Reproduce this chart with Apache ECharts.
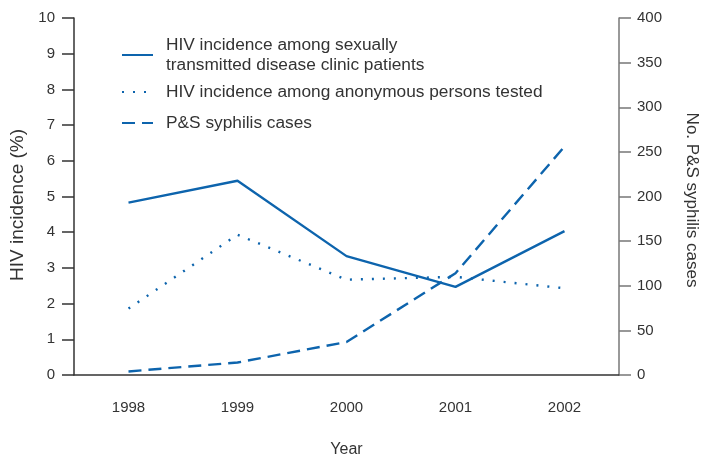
<!DOCTYPE html>
<html><head><meta charset="utf-8">
<script src="https://cdn.jsdelivr.net/npm/echarts@6/dist/echarts.min.js"></script>
<style>html,body{margin:0;padding:0;background:#fff}#c{width:707px;height:457px}</style>
</head><body><div id="c"></div>
<script>
const years = ['1998','1999','2000','2001','2002'];
const stdClinic = [4.83, 5.44, 3.33, 2.47, 4.03];
const anonymous = [1.86, 3.93, 2.67, 2.75, 2.43];
const syphilis = [4, 14, 37, 114, 256];
const leftTicks = [0,1,2,3,4,5,6,7,8,9,10];
const rightTicks = [0,50,100,150,200,250,300,350,400];
const names = ['HIV incidence among sexually\ntransmitted disease clinic patients',
               'HIV incidence among anonymous persons tested',
               'P&S syphilis cases'];
const blue = '#0d64ad';
const txt = '#333';
const font = '"Liberation Sans", Arial, Helvetica, sans-serif';
const chart = echarts.init(document.getElementById('c'));
function leg(i, top){
  return {data:[names[i]], left:121, top:top, padding:0, itemWidth:31, itemHeight:14, itemGap:0,
    itemStyle:{opacity:0},
    textStyle:{fontFamily:font,fontSize:17.3,color:txt,lineHeight:20,padding:[0,0,0,8]}, selectedMode:false};
}
chart.setOption({
  animation:false,
  textStyle:{fontFamily:font},
  grid:{left:74,right:88,top:18,bottom:82,outerBoundsMode:'none',containLabel:false},
  legend:[leg(0,35), leg(1,82), leg(2,113)],
  xAxis:{type:'category', data:years, boundaryGap:true,
    name:'Year', nameLocation:'middle', nameGap:67,
    nameTextStyle:{fontSize:16,color:txt,fontFamily:font},
    axisLine:{lineStyle:{color:'#333',width:1.5}},
    axisTick:{alignWithLabel:true,length:12,lineStyle:{color:'#333',width:1.5}},
    axisLabel:{fontSize:15,color:txt,margin:25,fontFamily:font}},
  yAxis:[
    {type:'value', min:leftTicks[0], max:leftTicks[leftTicks.length-1], interval:1,
     name:'HIV incidence (%)', nameLocation:'middle', nameGap:40,
     nameTextStyle:{fontSize:19,color:txt,fontFamily:font,padding:[0,17,0,0]},
     axisLine:{show:true,lineStyle:{color:'#333',width:1.5}},
     axisTick:{show:true,length:12,lineStyle:{color:'#333',width:1.5}},
     axisLabel:{fontSize:15,color:txt,margin:19,fontFamily:font},
     splitLine:{show:false}},
    {type:'value', min:rightTicks[0], max:rightTicks[rightTicks.length-1], interval:50, position:'right',
     name:'No. P&S syphilis cases', nameLocation:'middle', nameGap:64, nameRotate:-90,
     nameTextStyle:{fontSize:17,color:txt,fontFamily:font,padding:[0,0,0,7]},
     axisLine:{show:true,lineStyle:{color:'#777',width:1.5}},
     axisTick:{show:true,length:12,lineStyle:{color:'#777',width:1.5}},
     axisLabel:{fontSize:15,color:txt,margin:18,fontFamily:font},
     splitLine:{show:false}}
  ],
  series:[
    {name:names[0], type:'line', data:stdClinic, yAxisIndex:0, symbol:'none',
     itemStyle:{color:blue}, lineStyle:{color:blue,width:2.4,type:'solid'}},
    {name:names[1], type:'line', data:anonymous, yAxisIndex:0, symbol:'none',
     itemStyle:{color:blue}, lineStyle:{color:blue,width:2.4,type:[2,9]}},
    {name:names[2], type:'line', data:syphilis, yAxisIndex:1, symbol:'none',
     itemStyle:{color:blue}, lineStyle:{color:blue,width:2.4,type:[13,7]}}
  ]
});
</script></body></html>
